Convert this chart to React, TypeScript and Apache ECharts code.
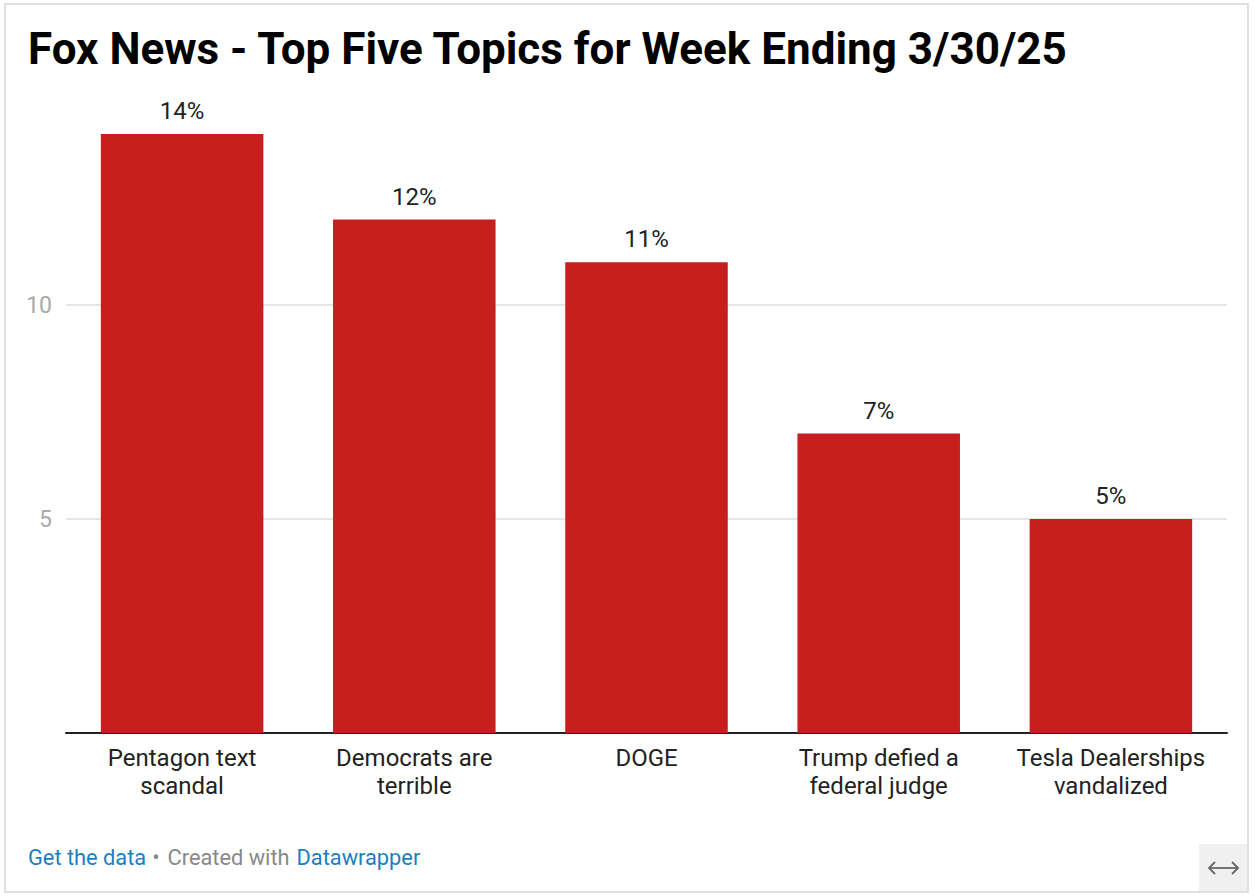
import React, { useEffect, useRef } from "react";
import * as echarts from "echarts";

const categories = [
  "Pentagon text\nscandal",
  "Democrats are\nterrible",
  "DOGE",
  "Trump defied a\nfederal judge",
  "Tesla Dealerships\nvandalized",
];
const values = [14, 12, 11, 7, 5];
const gridValues = [5, 10];

const TITLE = "Fox News - Top Five Topics for Week Ending 3/30/25";
const FONT = "Roboto, 'Noto Sans', sans-serif";

export default function App() {
  const ref = useRef<HTMLDivElement>(null);
  useEffect(() => {
    if (!ref.current) return;
    const chart = echarts.init(ref.current, null, { renderer: "svg" });
    chart.setOption({
      animation: false,
      backgroundColor: "#ffffff",
      textStyle: { fontFamily: FONT },
      grid: { left: 66, right: 29, top: 134, bottom: 163, containLabel: false },
      xAxis: {
        type: "category",
        data: categories,
        axisLine: { show: true, lineStyle: { color: "#222", width: 2 } },
        axisTick: { show: false },
        axisLabel: {
          color: "#222",
          fontSize: 24,
          lineHeight: 28,
          margin: 11,
          interval: 0,
          fontFamily: FONT,
        },
      },
      yAxis: {
        type: "value",
        min: 0,
        max: 14,
        interval: 5,
        axisLine: { show: false },
        axisTick: { show: false },
        splitLine: { show: false },
        axisLabel: {
          color: "#aaaaaa",
          fontSize: 23,
          margin: 14,
          fontFamily: FONT,
          formatter: (v: number) => (gridValues.indexOf(v) >= 0 ? String(v) : ""),
        },
      },
      series: [
        {
          type: "line",
          data: [],
          z: 1,
          silent: true,
          markLine: {
            silent: true,
            z: 1,
            symbol: "none",
            label: { show: false },
            lineStyle: { color: "#e6e6e6", type: "solid", width: 2 },
            data: gridValues.map((v) => ({ yAxis: v })),
          },
        },
        {
          type: "bar",
          data: values,
          z: 3,
          barCategoryGap: "30%",
          itemStyle: { color: "#c71e1e" },
          label: {
            show: true,
            position: "top",
            distance: 11,
            color: "#222",
            fontSize: 24,
            fontFamily: FONT,
            formatter: (p: any) => p.value + "%",
          },
        },
      ],
      graphic: [
        {
          type: "rect",
          shape: { x: 5, y: 4, width: 1243, height: 888 },
          style: { fill: "none", stroke: "#e0e0e0", lineWidth: 2 },
          silent: true,
        },
        {
          type: "text",
          left: 28,
          top: 27,
          style: {
            text: TITLE,
            fontSize: 44,
            fontWeight: "bold",
            fill: "#000",
            fontFamily: FONT,
          },
        },
        {
          type: "text",
          left: 28,
          top: 846,
          style: {
            text: "{a|Get the data}{s|•}{b|Created with}{a|Datawrapper}",
            rich: {
              a: { fill: "#1d7fc0", fontSize: 21.8, fontFamily: FONT },
              s: { fill: "#888888", fontSize: 21.8, fontFamily: FONT, padding: [0, 8, 0, 6] },
              b: { fill: "#888888", fontSize: 21.8, fontFamily: FONT, padding: [0, 7, 0, 0] },
            },
          },
        },
        {
          type: "rect",
          shape: { x: 1199, y: 844, width: 48, height: 47 },
          style: { fill: "#f0f0f0" },
          silent: true,
        },
        {
          type: "line",
          shape: { x1: 1209, y1: 868, x2: 1238, y2: 868 },
          style: { stroke: "#666", lineWidth: 1.8 },
        },
        {
          type: "polyline",
          shape: { points: [[1215, 862], [1209, 868], [1215, 874]] },
          style: { stroke: "#666", lineWidth: 1.8, fill: "none" },
        },
        {
          type: "polyline",
          shape: { points: [[1232, 862], [1238, 868], [1232, 874]] },
          style: { stroke: "#666", lineWidth: 1.8, fill: "none" },
        },
      ],
    });
    return () => chart.dispose();
  }, []);
  return (
    <div
      ref={ref}
      style={{ position: "fixed", left: 0, top: 0, width: 1256, height: 896 }}
    />
  );
}
